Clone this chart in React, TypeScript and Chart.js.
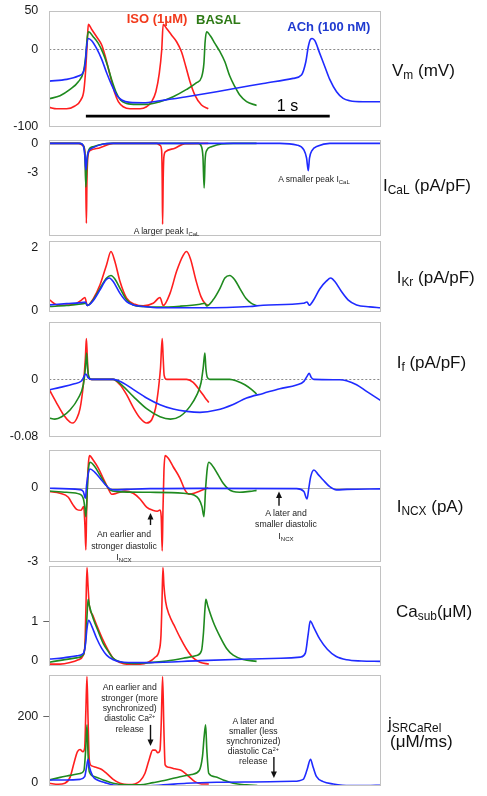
import React, { useEffect, useRef } from 'react';
import { Chart, registerables } from 'chart.js';
Chart.register(...registerables);

const FONT = '"Liberation Sans", Arial, Helvetica, sans-serif';
const RED = '#ff1f1f';
const GREEN = '#1f8a1f';
const BLUE = '#1f2bff';
const T_MIN = 0;
const T_MAX = 1359;

// ---------- Panel 1: Vm (mV), [time ms, value] ----------
const vmISO = [[0,-74.7],[30,-76.5],[71,-76.5],[105,-73],[129,-65.3],[142,-52.4],[150,-22.4],[156,11.9],[160,32.1],[174,25.6],[194,16.2],[215,5.5],[228,-7.4],[242,-24.5],[256,-41.7],[269,-56.7],[283,-67.4],[303,-73.9],[331,-76.5],[372,-76.5],[399,-73.9],[420,-67.4],[437,-54.6],[451,-31],[461,-0.9],[467,32.1],[481,26.9],[501,18.4],[522,9.8],[542,-3.1],[560,-22.4],[577,-41.7],[597,-58.9],[624,-71.7],[652,-76.5]];
const vmBASAL = [[0,-63.6],[44,-59.7],[85,-51.6],[119,-41.7],[140,-28.8],[149,-9.5],[156,16.2],[161,22.6],[180,16.2],[201,7.6],[221,-5.2],[238,-20.2],[256,-39.6],[273,-54.6],[292,-65.3],[317,-69.6],[358,-70.9],[399,-70.9],[454,-67.4],[508,-61],[563,-51.6],[604,-43],[624,-36.1],[634,-18.1],[639,9.8],[645,22.6],[661,17.1],[679,7.6],[700,-3.1],[720,-16],[740,-34.4],[761,-48.1],[781,-58.9],[809,-67.4],[850,-72.2]];
const vmACh = [[0,-40.9],[71,-38.7],[119,-34.4],[140,-28.8],[148,-16],[153,3.3],[160,14],[174,11.1],[194,1.2],[215,-12.9],[235,-30.1],[256,-46],[276,-58.9],[297,-65.3],[331,-68.3],[385,-68.7],[454,-66.2],[563,-61],[686,-54.6],[822,-47],[877,-44],[1000,-37.4],[1034,-33.1],[1052,-16],[1062,3.3],[1071,12.8],[1078,14],[1089,11.1],[1109,-5.2],[1130,-22.4],[1150,-38.7],[1178,-54.6],[1205,-63.2],[1232,-66.2],[1287,-67.4],[1358,-67.4]];
const scaleBarT = [150, 1150];
const scaleBarV = -86;

// ---------- Panel 2: ICaL (pA/pF) ----------
const icalISO = [[0,0],[119,0],[137,-0.2],[145,-0.67],[149,-2.7],[152,-8.16],[154.5,-3.7],[159,-1.18],[167,-0.74],[208,-0.44],[249,-0.07],[262,0],[440,0],[454,-0.2],[460.5,-0.67],[463,-3.7],[464.6,-8.26],[467,-3.7],[470,-1.35],[477,-0.84],[515,-0.5],[556,-0.03],[652,0]];
const icalBASAL = [[0,0],[126,0],[139.5,-0.24],[146,-1.18],[150,-4.45],[154.5,-2.02],[161,-0.74],[180,-0.34],[221,-0.07],[249,0],[611,0],[623,-0.27],[630,-1.35],[635,-4.55],[639,-1.68],[645,-0.74],[665,-0.34],[706,-0.07],[754,0],[850,0]];
const icalACh = [[0,0],[126,0],[139.5,-0.27],[146,-1.35],[150,-2.7],[154.5,-1.5],[161,-0.84],[180,-0.44],[221,-0.07],[256,0],[945,0],[1014,-0.17],[1044,-0.67],[1055,-1.5],[1062,-2.8],[1067,-1.5],[1077,-0.74],[1102,-0.27],[1150,0],[1358,0]];

// ---------- Panel 3: IKr (pA/pF) ----------
const ikrISO = [[0,0.35],[37,0.18],[105,0.21],[133,0.35],[146,0.42],[156,0.17],[180,0.38],[208,0.82],[235,1.45],[253,1.86],[269,1.55],[290,0.92],[317,0.4],[351,0.21],[385,0.16],[426,0.24],[454,0.42],[467,0.17],[495,0.55],[522,1.24],[549,1.74],[563,1.86],[579,1.63],[601,0.97],[622,0.45],[638,0.24],[652,0.17]];
const ikrBASAL = [[0,0.14],[71,0.17],[139.5,0.23],[150,0.24],[156,0.17],[180,0.35],[208,0.71],[235,1.03],[253,1.11],[269,1.0],[290,0.71],[317,0.35],[344,0.19],[385,0.14],[454,0.12],[536,0.15],[618,0.21],[638,0.24],[645,0.16],[672,0.35],[700,0.71],[720,1.03],[740,1.11],[761,0.97],[781,0.71],[806,0.4],[829,0.24],[850,0.17]];
const ikrACh = [[0,0.19],[71,0.23],[139.5,0.27],[148,0.28],[156,0.17],[180,0.32],[208,0.66],[232,0.97],[246,1.03],[262,0.92],[290,0.55],[317,0.29],[344,0.19],[385,0.14],[454,0.1],[618,0.1],[822,0.14],[877,0.18],[1041,0.24],[1057,0.28],[1066,0.18],[1082,0.32],[1109,0.69],[1137,0.94],[1154,1.03],[1171,0.92],[1198,0.61],[1225,0.35],[1260,0.19],[1314,0.13],[1358,0.1]];

// ---------- Panel 4: If (pA/pF) ----------
const ifISO = [[0,-0.0145],[30,-0.0331],[58,-0.0494],[85,-0.0596],[96,-0.061],[112,-0.055],[126,-0.041],[139.5,-0.0075],[148,0.0298],[152,0.0569],[156,0.0298],[160,0.0056],[170,0],[262,0],[290,-0.0075],[317,-0.0214],[344,-0.0391],[372,-0.054],[399,-0.061],[420,-0.0564],[436,-0.04],[448,-0.0121],[456,0.0158],[463,0.0569],[467,0.0298],[471,0.0056],[481,0],[563,0],[590,-0.0042],[618,-0.0158],[638,-0.0252],[654,-0.0322]];
const ifBASAL = [[0,-0.054],[23,-0.0555],[51,-0.0522],[85,-0.0429],[119,-0.026],[139.5,-0.0075],[148,0.0158],[153,0.0368],[157,0.0158],[164,0.0019],[174,0],[262,0],[303,-0.0098],[344,-0.0238],[399,-0.041],[454,-0.0522],[497,-0.0555],[536,-0.0517],[577,-0.0377],[604,-0.0224],[622,-0.0051],[631,0.0158],[638,0.0368],[642,0.0158],[648,0.0028],[659,0],[740,0],[768,-0.0023],[802,-0.0075],[829,-0.014],[850,-0.0205]];
const ifACh = [[0,-0.0145],[44,-0.0112],[99,-0.0065],[133,-0.0019],[150,0.0075],[160,0.0019],[174,0],[262,0],[303,-0.0051],[344,-0.014],[399,-0.026],[454,-0.0354],[508,-0.0415],[563,-0.0447],[618,-0.0461],[686,-0.0429],[754,-0.035],[809,-0.026],[877,-0.0196],[945,-0.013],[1014,-0.0079],[1044,-0.0028],[1057,0.0042],[1066,0.0084],[1074,0.0028],[1085,0],[1191,-0.0005],[1219,-0.0019],[1260,-0.0075],[1301,-0.0168],[1358,-0.0294]];

// ---------- Panel 5: INCX (pA) ----------
const incxISO = [[0,-0.16],[44,-0.23],[78,-0.39],[96,-0.68],[112,-0.88],[130,-0.92],[141,-0.77],[146,-1.52],[150,-2.53],[153,-0.98],[157,0.38],[161,1.06],[165,1.3],[180,1.12],[201,0.79],[221,0.38],[242,-0.05],[256,-0.27],[276,-0.23],[310,-0.14],[344,-0.23],[372,-0.46],[399,-0.79],[424,-0.92],[443,-0.96],[454,-0.91],[459,-1.18],[463,-2.57],[466,-0.98],[470,0.65],[475,1.3],[488,1.19],[508,0.85],[536,0.38],[556,-0.09],[574,-0.27],[590,-0.24],[618,-0.14],[652,0]];
const incxBASAL = [[0,-0.135],[71,-0.19],[126,-0.27],[141,-0.5],[146,-0.84],[150,-1.18],[156,-0.03],[161,0.79],[167,1.03],[187,0.85],[208,0.51],[228,0.18],[249,-0.09],[276,-0.16],[413,-0.19],[549,-0.23],[593,-0.3],[613,-0.46],[626,-0.77],[634,-1.18],[641,-0.03],[648,0.79],[654,1.03],[672,0.85],[693,0.51],[713,0.18],[734,-0.05],[754,-0.16],[781,-0.19],[822,-0.15],[850,-0.11]];
const incxACh = [[0,-0.027],[126,-0.08],[139.5,-0.16],[148,-0.43],[153,0.11],[160,0.58],[167,0.76],[187,0.62],[208,0.38],[228,0.14],[249,-0.05],[269,-0.09],[317,-0.07],[413,-0.04],[618,-0.03],[1014,-0.04],[1044,-0.16],[1057,-0.46],[1064,-0.03],[1072,0.45],[1085,0.72],[1102,0.54],[1123,0.31],[1150,0.04],[1178,-0.09],[1221,-0.07],[1358,-0.05]];

// ---------- Panel 6: Ca_sub (uM) ----------
const caISO = [[0,-0.08],[44,-0.08],[85,-0.04],[119,0.03],[139.5,0.15],[146,0.41],[150,1.3],[154.5,2.38],[159,1.89],[164,1.42],[178,1.17],[197,0.87],[219,0.55],[239,0.3],[262,0.07],[290,-0.04],[317,-0.08],[372,-0.08],[406,-0.03],[433,0.09],[451,0.28],[458,0.66],[462,1.47],[466,2.38],[470,1.93],[477,1.51],[492,1.17],[511,0.92],[536,0.6],[563,0.3],[590,0.08],[618,-0.03],[654,-0.08]];
const caBASAL = [[0,-0.03],[58,0.03],[112,0.08],[139.5,0.16],[149,0.53],[154.5,1.13],[159,1.57],[164,1.42],[180,1.08],[201,0.75],[221,0.45],[242,0.24],[262,0.07],[290,-0.02],[344,-0.06],[413,-0.04],[481,0],[549,0.07],[604,0.14],[624,0.26],[632,0.7],[638,1.3],[642,1.57],[650,1.4],[672,1.0],[700,0.62],[727,0.32],[754,0.15],[795,0.04],[850,-0.01]];
const caACh = [[0,0.05],[58,0.08],[112,0.13],[139.5,0.19],[148,0.41],[154.5,0.83],[161,1.04],[174,0.89],[194,0.58],[215,0.32],[235,0.15],[262,0.03],[303,-0.03],[413,-0.04],[618,0.01],[822,0.05],[950,0.07],[1030,0.1],[1050,0.2],[1062,0.7],[1070,1.02],[1085,0.85],[1110,0.55],[1140,0.3],[1175,0.12],[1220,0.03],[1280,0],[1358,-0.01]];

// ---------- Panel 7: jSRCaRel (uM/ms) ----------
const jISO = [[0,-3],[37,-6],[64,-3],[85,15],[101,58],[115,93],[126,100],[138,93],[145,104],[150,220],[154.5,322],[159,190],[164,68],[174,50],[194,45],[215,39],[235,27],[262,9],[290,-3],[324,-7],[351,-5],[372,4],[392,27],[409,68],[424,98],[435,98],[445,90],[454,98],[459,180],[464.6,322],[470,159],[475,53],[488,46],[515,41],[542,36],[570,19],[597,2],[624,-5],[654,-5]];
const jBASAL = [[0,7],[44,15],[85,21],[126,27],[142,36],[149,98],[154.5,175],[159,83],[164,32],[187,17],[221,7],[262,-3],[317,-8],[372,-8],[426,-1],[481,7],[536,17],[583,24],[615,36],[628,78],[635,139],[641,175],[646,98],[654,27],[679,17],[713,7],[754,-3],[809,-8],[853,-10]];
const jACh = [[0,7],[71,7],[126,9],[145,17],[152,43],[159,70],[164,48],[178,19],[197,7],[228,-1],[262,-8],[317,-11],[385,-11],[467,-8],[563,-3],[686,0],[836,1],[1000,3],[1041,9],[1057,38],[1071,70],[1082,46],[1096,17],[1123,2],[1164,-5],[1232,-10],[1301,-10],[1359,-9]];

// annotation arrows [time, from value, to value]
const incxArrows = [[415, -1.52, -1.03], [942, -0.74, -0.16]];
const jArrows = [[415, 175, 111], [921, 77, 13]];

const toXY = (arr: number[][]) => arr.map(([x, y]) => ({ x, y }));

type Panel = {
  top: number; bottom: number; min: number; max: number; ticks: number[];
  tickMarks?: boolean; zero?: 'dotted' | 'solid'; series: number[][][];
  arrows?: number[][]; bar?: boolean;
};

const panels: Panel[] = [
  { top: 10.5, bottom: 127, min: -100, max: 50, ticks: [50, 0, -100], zero: 'dotted', series: [vmACh, vmBASAL, vmISO], bar: true },
  { top: 140, bottom: 236, min: -9.46, max: 0.34, ticks: [0, -3], series: [icalACh, icalBASAL, icalISO] },
  { top: 241, bottom: 311.5, min: -0.016, max: 2.19, ticks: [2, 0], series: [ikrACh, ikrBASAL, ikrISO] },
  { top: 322.3, bottom: 437, min: -0.0805, max: 0.0797, ticks: [0, -0.08], zero: 'dotted', series: [ifACh, ifBASAL, ifISO] },
  { top: 450, bottom: 561.7, min: -3.01, max: 1.53, ticks: [0, -3], zero: 'solid', series: [incxACh, incxBASAL, incxISO], arrows: incxArrows },
  { top: 566, bottom: 666, min: -0.127, max: 2.42, ticks: [1, 0], tickMarks: true, series: [caACh, caBASAL, caISO] },
  { top: 674.7, bottom: 786, min: -11.3, max: 328, ticks: [200, 0], tickMarks: true, series: [jACh, jBASAL, jISO], arrows: jArrows },
];

const PAD = 10;
const WIDTH = 487;
const AXIS_W = 49.3;
const RIGHT_PAD = WIDTH - 380.7;

function makeDecor(p: Panel) {
  return {
    id: 'decor',
    beforeDatasetsDraw(chart: any) {
      const { ctx, chartArea, scales } = chart;
      if (p.zero) {
        const y = Math.round(scales.y.getPixelForValue(0)) + 0.5;
        ctx.save();
        ctx.strokeStyle = p.zero === 'dotted' ? '#8a8a8a' : '#b0b0b0';
        ctx.lineWidth = 1;
        if (p.zero === 'dotted') ctx.setLineDash([2, 2]);
        ctx.beginPath();
        ctx.moveTo(chartArea.left, y);
        ctx.lineTo(chartArea.right, y);
        ctx.stroke();
        ctx.restore();
      }
    },
    afterDatasetsDraw(chart: any) {
      const { ctx, chartArea, scales } = chart;
      ctx.save();
      ctx.strokeStyle = '#c2c2c2';
      ctx.lineWidth = 1;
      const l = Math.round(chartArea.left) + 0.5;
      const t = Math.round(chartArea.top) + 0.5;
      const r = Math.round(chartArea.right) - 0.5;
      const b = Math.round(chartArea.bottom) - 0.5;
      ctx.strokeRect(l, t, r - l, b - t);
      (p.arrows || []).forEach(([tm, from, to]) => {
        const x = scales.x.getPixelForValue(tm);
        const y0 = scales.y.getPixelForValue(from);
        const y1 = scales.y.getPixelForValue(to);
        const dir = y1 > y0 ? 1 : -1;
        ctx.strokeStyle = '#111';
        ctx.fillStyle = '#111';
        ctx.lineWidth = 1.4;
        ctx.beginPath();
        ctx.moveTo(x, y0);
        ctx.lineTo(x, y1 - dir * 5);
        ctx.stroke();
        ctx.beginPath();
        ctx.moveTo(x, y1);
        ctx.lineTo(x - 3, y1 - dir * 6.5);
        ctx.lineTo(x + 3, y1 - dir * 6.5);
        ctx.closePath();
        ctx.fill();
      });
      ctx.restore();
    },
  };
}

function PanelChart({ p }: { p: Panel }) {
  const ref = useRef<HTMLCanvasElement | null>(null);
  const cTop = Math.floor(p.top - PAD);
  const cBottom = Math.ceil(p.bottom + PAD);
  const h = cBottom - cTop;
  useEffect(() => {
    const colors = [BLUE, GREEN, RED];
    const datasets: any[] = p.series.map((s, i) => ({
      data: toXY(s),
      borderColor: colors[i],
      borderWidth: 1.6,
      pointRadius: 0,
      fill: false,
      cubicInterpolationMode: 'monotone',
    }));
    if (p.bar) {
      datasets.push({
        data: scaleBarT.map((t) => ({ x: t, y: scaleBarV })),
        borderColor: '#000',
        borderWidth: 2.6,
        pointRadius: 0,
        fill: false,
        tension: 0,
      });
    }
    const chart = new Chart(ref.current as HTMLCanvasElement, {
      type: 'line',
      data: { datasets },
      options: {
        animation: false,
        responsive: false,
        devicePixelRatio: 1,
        events: [],
        layout: { padding: { left: 0, right: RIGHT_PAD, top: p.top - cTop, bottom: cBottom - p.bottom } },
        plugins: { legend: { display: false }, tooltip: { enabled: false } },
        scales: {
          x: { type: 'linear', display: false, min: T_MIN, max: T_MAX },
          y: {
            type: 'linear',
            min: p.min,
            max: p.max,
            border: { display: false },
            grid: {
              display: !!p.tickMarks,
              drawOnChartArea: false,
              drawTicks: !!p.tickMarks,
              tickLength: 6,
              color: (ctx: any) => (ctx.tick && ctx.tick.value === 0 ? 'rgba(0,0,0,0)' : '#666'),
            },
            ticks: {
              autoSkip: false,
              padding: p.tickMarks ? 5 : 11,
              color: '#1a1a1a',
              font: { family: FONT, size: 12.5 },
              callback: (v: any) => String(v),
            },
            afterBuildTicks: (axis: any) => {
              axis.ticks = p.ticks.map((v) => ({ value: v }));
            },
            afterFit: (axis: any) => {
              axis.width = AXIS_W;
              axis.paddingTop = 0;
              axis.paddingBottom = 0;
            },
          },
        },
      },
      plugins: [makeDecor(p)],
    } as any);
    return () => chart.destroy();
  }, []);
  return (
    <canvas
      ref={ref}
      width={WIDTH}
      height={h}
      style={{ position: 'absolute', left: 0, top: cTop, width: WIDTH, height: h }}
    />
  );
}

const Sub = ({ children }: any) => (
  <span style={{ fontSize: '0.7em', verticalAlign: '-0.3em', lineHeight: 0 }}>{children}</span>
);
const Sup = ({ children }: any) => (
  <span style={{ fontSize: '0.62em', verticalAlign: '0.5em', lineHeight: 0 }}>{children}</span>
);

function Label({ x, y, size, color = '#111', bold = false, align = 'left', lh, children }: any) {
  const tx = align === 'center' ? '-50%' : '0';
  return (
    <div
      style={{
        position: 'absolute', left: x, top: y, transform: `translate(${tx}, -50%)`,
        fontSize: size, color, fontWeight: bold ? 'bold' : 'normal', fontFamily: FONT,
        whiteSpace: 'nowrap', lineHeight: lh ? `${lh}px` : 1, textAlign: align,
      }}
    >
      {children}
    </div>
  );
}

export default function App() {
  return (
    <div style={{ position: 'absolute', left: 0, top: 0, width: WIDTH, height: 796, background: '#fff', overflow: 'hidden' }}>
      {panels.map((p, i) => (
        <PanelChart key={i} p={p} />
      ))}
      {/* legend / series labels */}
      <Label x={126.7} y={17.7} size={13} bold color="#f23a1c">ISO (1μM)</Label>
      <Label x={196} y={18.5} size={13} bold color="#2e7a16">BASAL</Label>
      <Label x={287.3} y={25.5} size={13} bold color="#1f3ad0">ACh (100 nM)</Label>
      <Label x={287.5} y={106} size={16} align="center" color="#000">1 s</Label>

      {/* right-hand axis titles */}
      <Label x={392} y={70} size={17}>V<Sub>m</Sub> (mV)</Label>
      <Label x={383} y={184.5} size={17}>I<Sub>CaL</Sub> (pA/pF)</Label>
      <Label x={396.7} y={277} size={17}>I<Sub>Kr</Sub> (pA/pF)</Label>
      <Label x={396.7} y={362} size={17}>I<Sub>f</Sub> (pA/pF)</Label>
      <Label x={396.7} y={505.7} size={17}>I<Sub>NCX</Sub> (pA)</Label>
      <Label x={396} y={611} size={17}>Ca<Sub>sub</Sub>(μM)</Label>
      <Label x={388} y={723} size={17}>j<Sub>SRCaRel</Sub></Label>
      <Label x={390} y={741} size={17}>(μM/ms)</Label>

      {/* annotations */}
      <Label x={166.5} y={230.5} size={8.5} align="center" color="#222">A larger peak I<Sub>CaL</Sub></Label>
      <Label x={314} y={179.3} size={8.5} align="center" color="#222">A smaller peak I<Sub>CaL</Sub></Label>
      <Label x={124} y={546.3} size={8.7} align="center" lh={11.2} color="#222">
        An earlier and<br />stronger diastolic<br />I<Sub>NCX</Sub>
      </Label>
      <Label x={286} y={524.8} size={8.7} align="center" lh={11.4} color="#222">
        A later and<br />smaller diastolic<br />I<Sub>NCX</Sub>
      </Label>
      <Label x={129.7} y={708.2} size={8.7} align="center" lh={10.4} color="#222">
        An earlier and<br />stronger (more<br />synchronized)<br />diastolic Ca<Sup>2+</Sup><br />release
      </Label>
      <Label x={253.3} y={740.9} size={8.7} align="center" lh={10.1} color="#222">
        A later and<br />smaller (less<br />synchronized)<br />diastolic Ca<Sup>2+</Sup><br />release
      </Label>
    </div>
  );
}
